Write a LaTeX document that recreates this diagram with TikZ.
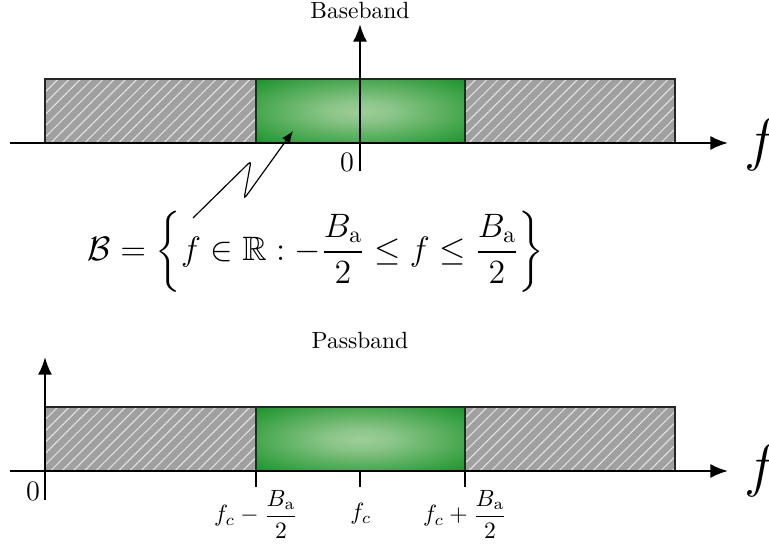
\documentclass[tikz,border=0pt]{standalone}
\usepackage{amsmath,amssymb}
\usetikzlibrary{patterns.meta,arrows.meta}
\definecolor{gout}{RGB}{0,136,20}
\definecolor{gin}{RGB}{158,205,152}
\definecolor{hgray}{RGB}{160,160,160}
\definecolor{hline}{RGB}{222,222,222}
\pgfdeclareradialshading{bandshade}{\pgfpoint{0bp}{0bp}}{color(0bp)=(gin); color(8bp)=(gin!88!gout); color(42bp)=(gout); color(50bp)=(gout)}
\begin{document}
\begin{tikzpicture}[x=0.4255pt,y=-0.4255pt,
  axis/.style={line width=1pt,-{Latex[length=7.5pt,width=6pt]}},
  hatchfill/.style={fill=hgray,postaction={pattern={Lines[angle=45,distance=3.4pt,line width=0.5pt]},pattern color=hline}},
  boxline/.style={draw=black!85,line width=0.6pt},
  bandbox/.style={shading=bandshade},
  tickln/.style={line width=1pt},
  lbl/.style={inner sep=0pt}]
\useasboundingbox (0,0) rectangle (769,544);
% ---------- Baseband ----------
\fill[hatchfill] (45,79) rectangle (256,143);
\fill[hatchfill] (465,79) rectangle (675,143);
\shade[bandbox] (256,79) rectangle (465,143);
\draw[boxline] (45,79) rectangle (256,143);
\draw[boxline] (465,79) rectangle (675,143);
\draw[boxline] (256,79) rectangle (465,143);
\node[lbl] (bb) at (360,10) {Baseband};
\coordinate (ax1s) at (10,143);
\coordinate (ax1e) at (728,143);
\draw[axis] (ax1s) -- (ax1e);
\coordinate (vy1s) at (360,171);
\coordinate (vy1e) at (360,24);
\draw[axis] (vy1s) -- (vy1e);
\node[lbl,font=\large] (z1) at (347,162) {$0$};
\node[lbl,font=\Huge,anchor=west] (f1) at (744,145) {$f$};
% set definition
\node[lbl,font=\Large] (set) at (316,252)
  {$\displaystyle \mathcal{B}=\left\{f\in\mathbb{R}:-\frac{B_{\mathrm{a}}}{2}\leq f\leq\frac{B_{\mathrm{a}}}{2}\right\}$};
\coordinate (zs) at (193,218);
\coordinate (zt) at (293,131);
\draw[line width=0.5pt,rounded corners=1.5pt,-{Latex[length=5pt,width=4pt]}] (zs)
  -- (251,161) -- (244,199) -- (zt);
% ---------- Passband ----------
\fill[hatchfill] (45,407) rectangle (256,471);
\fill[hatchfill] (465,407) rectangle (675,471);
\shade[bandbox] (256,407) rectangle (465,471);
\draw[boxline] (45,407) rectangle (256,471);
\draw[boxline] (465,407) rectangle (675,471);
\draw[boxline] (256,407) rectangle (465,471);
\node[lbl] (pb) at (360,340) {Passband};
\coordinate (ax2s) at (10,471);
\coordinate (ax2e) at (728,471);
\draw[axis] (ax2s) -- (ax2e);
\coordinate (vy2s) at (45,500);
\coordinate (vy2e) at (45,357);
\draw[axis] (vy2s) -- (vy2e);
\node[lbl,font=\large] (z2) at (33,491) {$0$};
\node[lbl,font=\Huge,anchor=west] (f2) at (744,471) {$f$};
\coordinate (t1a) at (256,471); \coordinate (t1b) at (256,487);
\coordinate (t2a) at (360,471); \coordinate (t2b) at (360,487);
\coordinate (t3a) at (465,471); \coordinate (t3b) at (465,487);
\draw[tickln] (t1a) -- (t1b);
\draw[tickln] (t2a) -- (t2b);
\draw[tickln] (t3a) -- (t3b);
\node[lbl] (l1) at (256,514) {$f_c-\dfrac{B_{\mathrm{a}}}{2}$};
\node[lbl] (l2) at (361,514) {$f_c$};
\node[lbl] (l3) at (465,514) {$f_c+\dfrac{B_{\mathrm{a}}}{2}$};
\end{tikzpicture}
\end{document}
